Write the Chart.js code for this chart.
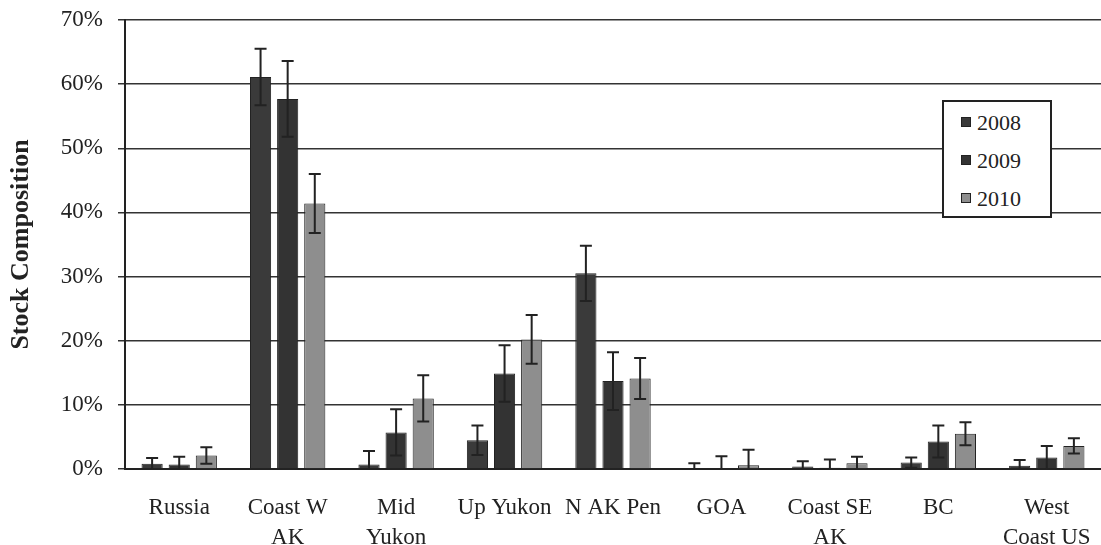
<!DOCTYPE html>
<html>
<head>
<meta charset="utf-8">
<script src="https://cdn.jsdelivr.net/npm/chart.js@4.4.1/dist/chart.umd.min.js"></script>
<style>
  html, body { margin: 0; padding: 0; background: #fff; }
  #wrap { position: relative; width: 1101px; height: 545px; }
  #legend {
    position: absolute; left: 942px; top: 100px; width: 106px; height: 114px;
    border: 2px solid #222; background: #fff;
    font-family: "Liberation Serif", "DejaVu Serif", serif; font-size: 22px; color: #222;
  }
  #legend .item { position: absolute; left: 17px; height: 26px; line-height: 26px; }
  #legend .sw { display: inline-block; width: 8px; height: 8px; margin-right: 6px; vertical-align: 3px; border: 1px solid #222; }
</style>
</head>
<body>
<div id="wrap">
  <canvas id="chart" width="1101" height="545"></canvas>
  <div id="legend"></div>
</div>
<script>
const categories = ['Russia', ['Coast W', 'AK'], ['Mid', 'Yukon'], 'Up Yukon', 'N AK Pen',
                    'GOA', ['Coast SE', 'AK'], 'BC', ['West', 'Coast US']];
const years = ['2008', '2009', '2010'];

// stock composition (%) and error (+/- %)
const values2008 = [0.8, 61.1, 0.7, 4.5, 30.5, 0.1, 0.4, 1.0, 0.5];
const values2009 = [0.7, 57.7, 5.7, 14.9, 13.7, 0.1, 0.2, 4.3, 1.8];
const values2010 = [2.1, 41.4, 11.0, 20.2, 14.1, 0.6, 0.9, 5.5, 3.6];
const err2008 = [0.9, 4.4, 2.1, 2.3, 4.3, 0.8, 0.8, 0.8, 0.9];
const err2009 = [1.2, 5.9, 3.6, 4.4, 4.5, 1.9, 1.3, 2.5, 1.8];
const err2010 = [1.3, 4.6, 3.6, 3.8, 3.2, 2.4, 1.0, 1.8, 1.2];

const fills = ['#3a3a3a', '#333333', '#8e8e8e'];
const edge = '#222';
const font = '"Liberation Serif", "DejaVu Serif", serif';

const errorBars = {
    id: 'errorBars',
    afterDatasetsDraw(chart) {
        const ctx = chart.ctx;
        const y = chart.scales.y;
        ctx.save();
        ctx.strokeStyle = '#222';
        ctx.lineWidth = 2;
        chart.data.datasets.forEach((ds, i) => {
            const meta = chart.getDatasetMeta(i);
            meta.data.forEach((bar, j) => {
                const v = ds.data[j], e = ds.errors[j];
                const top = y.getPixelForValue(v + e);
                const lowV = v - e;
                const bot = y.getPixelForValue(Math.max(lowV, 0));
                ctx.beginPath();
                ctx.moveTo(bar.x, top);
                ctx.lineTo(bar.x, bot);
                ctx.moveTo(bar.x - 6, top);
                ctx.lineTo(bar.x + 6, top);
                if (lowV > 0) {
                    ctx.moveTo(bar.x - 6, bot);
                    ctx.lineTo(bar.x + 6, bot);
                }
                ctx.stroke();
            });
        });
        ctx.restore();
    }
};

const datasets = [values2008, values2009, values2010].map((vals, i) => ({
    label: years[i],
    data: vals,
    errors: [err2008, err2009, err2010][i],
    backgroundColor: fills[i],
    borderColor: edge,
    borderWidth: 1,
    categoryPercentage: 0.75,
    barPercentage: 0.78
}));

new Chart(document.getElementById('chart'), {
    type: 'bar',
    data: { labels: categories, datasets: datasets },
    options: {
        responsive: false,
        animation: false,
        layout: { padding: { top: 20, right: 0, left: 0, bottom: 0 } },
        plugins: { legend: { display: false }, tooltip: { enabled: false } },
        scales: {
            x: {
                grid: { display: false, drawTicks: false },
                border: { display: true, color: '#222', width: 2 },
                ticks: {
                    color: '#222', padding: 24, maxRotation: 0, autoSkip: false,
                    font: { family: font, size: 23, lineHeight: 1.3 }
                },
                afterFit(s) { s.height = 76; s.paddingLeft = 0; s.paddingRight = 0; }
            },
            y: {
                min: 0, max: 70,
                grid: { color: '#333', lineWidth: 1.5, tickLength: 7 },
                border: { display: true, color: '#222', width: 2 },
                ticks: {
                    stepSize: 10, color: '#222', padding: 15,
                    font: { family: font, size: 23 },
                    callback: v => v + '%'
                },
                title: {
                    display: true, text: 'Stock Composition', color: '#222',
                    font: { family: font, size: 26, weight: 'bold', lineHeight: 1.2 },
                    padding: { top: 6, bottom: 0 }
                },
                afterFit(s) { s.width = 125; s.paddingTop = 0; s.paddingBottom = 0; }
            }
        }
    },
    plugins: [errorBars]
});

// legend box
const legend = document.getElementById('legend');
years.forEach((yr, i) => {
    const it = document.createElement('div');
    it.className = 'item';
    it.style.top = (8 + i * 38) + 'px';
    it.innerHTML = '<span class="sw" style="background:' + fills[i] + '"></span>' + yr;
    legend.appendChild(it);
});
</script>
</body>
</html>
